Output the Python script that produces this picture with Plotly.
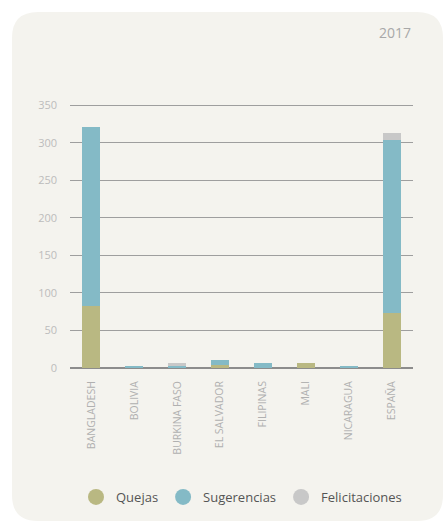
import plotly.graph_objects as go

categories = ["BANGLADESH", "BOLIVIA", "BURKINA FASO", "EL SALVADOR",
              "FILIPINAS", "MALI", "NICARAGUA", "ESPAÑA"]
quejas = [83, 0, 0, 4, 0, 6, 0, 73]
sugerencias = [238, 3, 3, 7, 6, 0, 3, 231]
felicitaciones = [0, 0, 4, 0, 0, 0, 0, 9]
series_names = ["Quejas", "Sugerencias", "Felicitaciones"]
series_colors = ["#b9b882", "#84bac6", "#c8c8c8"]
y_ticks = [0, 50, 100, 150, 200, 250, 300, 350]
title_text = "2017"

W, H = 445, 524
L, R, T, B = 70, 32, 104, 156
pw, ph = W - L - R, H - T - B

def px_x(x):
    return (x - L) / pw

def px_y(y):
    return (H - B - y) / ph

fig = go.Figure()
for name, vals, col in zip(series_names, [quejas, sugerencias, felicitaciones], series_colors):
    fig.add_trace(go.Bar(x=categories, y=vals, name=name, marker_color=col,
                         marker_line_width=0, showlegend=False))
for name, col in zip(series_names, series_colors):
    fig.add_trace(go.Scatter(x=[None], y=[None], mode="markers", name=name,
                             marker=dict(symbol="circle", size=16, color=col)))

# rounded card background
x0, x1, y0, y1, r = 12, 443, 12, 521, 26
path = (f"M {px_x(x0+r)},{px_y(y0)} L {px_x(x1-r)},{px_y(y0)} "
        f"Q {px_x(x1)},{px_y(y0)} {px_x(x1)},{px_y(y0+r)} "
        f"L {px_x(x1)},{px_y(y1-r)} Q {px_x(x1)},{px_y(y1)} {px_x(x1-r)},{px_y(y1)} "
        f"L {px_x(x0+r)},{px_y(y1)} Q {px_x(x0)},{px_y(y1)} {px_x(x0)},{px_y(y1-r)} "
        f"L {px_x(x0)},{px_y(y0+r)} Q {px_x(x0)},{px_y(y0)} {px_x(x0+r)},{px_y(y0)} Z")

fig.update_layout(
    width=W, height=H,
    margin=dict(l=L, r=R, t=T, b=B),
    paper_bgcolor="white",
    plot_bgcolor="rgba(0,0,0,0)",
    barmode="stack",
    bargap=0.58,
    font=dict(family="Open Sans", color="#555555"),
    shapes=[dict(type="path", xref="paper", yref="paper", path=path,
                 fillcolor="#f4f3ee", line=dict(width=0), layer="below")],
    annotations=[dict(text=title_text, xref="paper", yref="paper",
                      x=1, y=px_y(33), xanchor="right", yanchor="middle",
                      showarrow=False, font=dict(size=14, color="#a8a8a8"))],
    legend=dict(orientation="h", x=0.5, xanchor="center", y=px_y(497),
                yanchor="middle", font=dict(size=13, color="#555555"),
                bgcolor="rgba(0,0,0,0)", itemwidth=30, traceorder="normal"),
    xaxis=dict(type="category", tickangle=-90, showgrid=False,
               showline=False, zeroline=False, ticks="",
               tickfont=dict(size=10.5, color="#b0b0b0"), ticklabelstandoff=10),
    yaxis=dict(range=[0, 351.5], tickvals=y_ticks, showgrid=True,
               gridcolor="#9e9e9e", gridwidth=1, zeroline=True,
               zerolinecolor="#8c8c8c", zerolinewidth=1.5, showline=False,
               ticks="", tickfont=dict(size=11, color="#bcbcbc"),
               ticklabelstandoff=12),
)

fig.write_html("out.html")
